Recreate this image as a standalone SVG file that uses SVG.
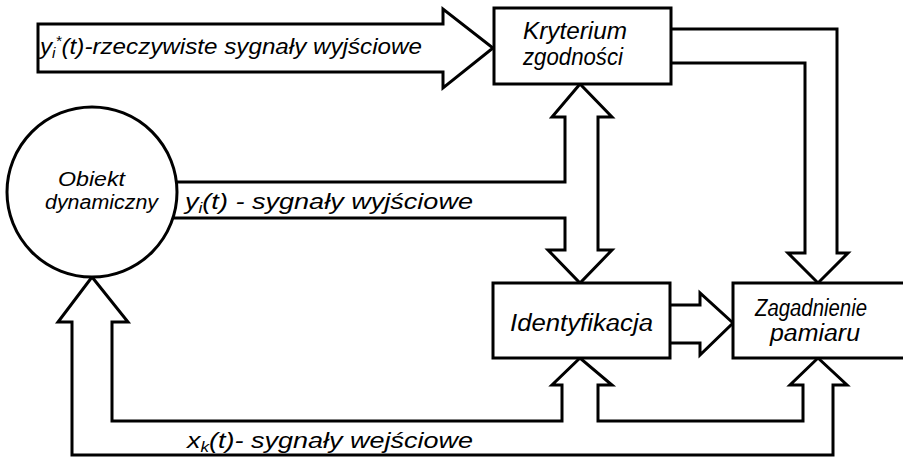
<svg xmlns="http://www.w3.org/2000/svg" width="903" height="459" viewBox="0 0 903 459">
<style>
.ln{fill:none;stroke:#000;stroke-width:3;stroke-linejoin:miter;stroke-linecap:square}
.bx{fill:#fff;stroke:#000;stroke-width:3}
.t{font-family:"Liberation Sans",Arial,sans-serif;font-style:italic;font-size:22px;fill:#000}
.b{font-size:23px}
.o{font-size:20px}
.sub{font-size:14px}
</style>
<rect width="903" height="459" fill="#fff"/>
<g id="connectors">
  <path class="ln" d="M38,24 H443 V9 L493,48 L443,88 V72 H38 Z"/>
  <path class="ln" d="M177,182 H565 V117 H552 L580,84 L612,117 H598 V250 H612 L580,283 L548,250 H565 V218 H174"/>
  <path class="ln" d="M671,29 H837 V253 H848 L818,283 L788,253 H805 V63 H671"/>
  <path class="ln" d="M670,305 H700 V293 L733,323 L700,355 V343 H670"/>
  <path class="ln" d="M72,322 H58 L92,277 L128,322 H112 V421 H562 V385 H552 L580,358 L612,385 H598 V421 H803 V385 H790 L818,358 L847,385 H833 V455 H72 Z"/>
  <text class="t" x="40" y="54" textLength="382" lengthAdjust="spacingAndGlyphs">y<tspan class="sub" dy="4">i</tspan><tspan class="sub" dy="-12">*</tspan><tspan dy="8">(t)-rzeczywiste  sygnały  wyjściowe</tspan></text>
  <text class="t" x="185" y="209" textLength="288" lengthAdjust="spacingAndGlyphs">y<tspan class="sub" dy="4">i</tspan><tspan dy="-4">(t) - sygnały  wyjściowe</tspan></text>
  <text class="t" x="187" y="448" textLength="286" lengthAdjust="spacingAndGlyphs">x<tspan class="sub" dy="4">k</tspan><tspan dy="-4">(t)- sygnały  wejściowe</tspan></text>
</g>
<g id="kryterium">
  <rect class="bx" x="494" y="8" width="177" height="76"/>
  <text class="t b" x="523" y="39" textLength="104" lengthAdjust="spacingAndGlyphs">Kryterium</text>
  <text class="t b" x="523" y="65" textLength="100" lengthAdjust="spacingAndGlyphs">zgodności</text>
</g>
<g id="obiekt">
  <ellipse class="bx" cx="92" cy="192" rx="85" ry="85"/>
  <text class="t o" x="58" y="186" textLength="67" lengthAdjust="spacingAndGlyphs">Obiekt</text>
  <text class="t o" x="45" y="209" textLength="113" lengthAdjust="spacingAndGlyphs">dynamiczny</text>
</g>
<g id="identyfikacja">
  <rect class="bx" x="493" y="283" width="177" height="75"/>
  <text class="t b" x="510" y="331" textLength="143" lengthAdjust="spacingAndGlyphs">Identyfikacja</text>
</g>
<g id="zagadnienie">
  <path class="bx" d="M905,283 H733 V358 H905"/>
  <text class="t b" x="755" y="316" textLength="112" lengthAdjust="spacingAndGlyphs">Zagadnienie</text>
  <text class="t b" x="770" y="341" textLength="90" lengthAdjust="spacingAndGlyphs">pamiaru</text>
</g>
</svg>
